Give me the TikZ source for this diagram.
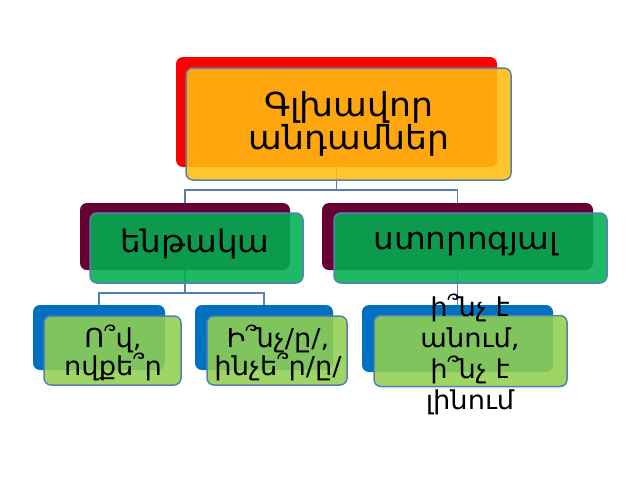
\documentclass[tikz,border=0pt]{standalone}
\usepackage{fontspec}
\setmainfont{DejaVu Sans}[FakeStretch=1.05]
\usetikzlibrary{backgrounds}
\definecolor{bred}{HTML}{FF0000}
\definecolor{bmaroon}{HTML}{660033}
\definecolor{bblue}{HTML}{0070C0}
\definecolor{fgold}{HTML}{FFBE10}
\definecolor{fgreen}{HTML}{00B050}
\definecolor{flime}{HTML}{92D050}
\definecolor{edgec}{HTML}{5580B2}
\begin{document}
\begin{tikzpicture}[x=1pt,y=-1pt,
  backbox/.style={rectangle, rounded corners=7pt, draw=none, inner sep=0pt},
  frontbox/.style={rectangle, rounded corners=7pt, draw=edgec, line width=1.5pt, fill opacity=0.88, inner sep=0pt},
  txt/.style={align=center, inner sep=0pt, text=black},
  conn/.style={draw=edgec, line width=1.8pt},
  bigfont/.style={font=\fontsize{33}{31}\selectfont},
  midfont/.style={font=\fontsize{31}{32}\selectfont},
  smallfont/.style={font=\fontsize{26}{28}\selectfont},
  tallfont/.style={font=\fontsize{26}{31}\selectfont}]
\useasboundingbox (0,0) rectangle (640,480);
% back boxes
\node[backbox, fill=bred, minimum width=321pt, minimum height=110pt] (topB) at (336.5,112) {};
\node[backbox, fill=bmaroon, minimum width=210pt, minimum height=67pt] (leftB) at (185,236.5) {};
\node[backbox, fill=bmaroon, minimum width=271pt, minimum height=67pt] (rightB) at (457.5,236.5) {};
\node[backbox, fill=bblue, minimum width=132pt, minimum height=65pt] (b1B) at (99,337.5) {};
\node[backbox, fill=bblue, minimum width=138pt, minimum height=65pt] (b2B) at (264,337.5) {};
\node[backbox, fill=bblue, minimum width=191pt, minimum height=67pt] (b3B) at (457.5,338.5) {};
% front boxes
\node[frontbox, fill=fgold, minimum width=325pt, minimum height=112pt] (topF) at (348.5,124) {};
\node[frontbox, fill=fgreen, minimum width=213pt, minimum height=70pt] (leftF) at (196.5,248) {};
\node[frontbox, fill=fgreen, minimum width=273pt, minimum height=70pt] (rightF) at (470.5,248) {};
\node[frontbox, fill=flime, minimum width=137pt, minimum height=69pt] (b1F) at (112.5,350.5) {};
\node[frontbox, fill=flime, minimum width=140pt, minimum height=69pt] (b2F) at (277,350.5) {};
\node[frontbox, fill=flime, minimum width=193pt, minimum height=71pt] (b3F) at (470.5,351) {};
% texts
\node[txt, bigfont] (topT) at (349,124) {Գլխավոր\\անդամներ};
\node[txt, midfont] (leftT) at (195,244) {ենթակա};
\node[txt, midfont] (rightT) at (466,244) {ստորոգյալ};
\node[txt, smallfont] (b1T) at (113,353) {Ո՞վ,\\ովքե՞ր};
\node[txt, smallfont] (b2T) at (278,353) {Ի՞նչ/ը/,\\ինչե՞ր/ը/};
\node[txt, tallfont] (b3T) at (470,354) {ի՞նչ է\\անում,\\ի՞նչ է\\լինում};
% connectors
\begin{pgfonlayer}{background}
\fill[white] (0,0) rectangle (640,480);
\draw[conn] (topB.south) -- +(0,23) -| (leftB.north);
\draw[conn] (topB.south) -- +(0,23) -| (rightB.north);
\draw[conn] (leftB.south) -- +(0,23) -| (b1B.north);
\draw[conn] (leftB.south) -- +(0,23) -| (b2B.north);
\draw[conn] (rightB.south) -- (b3B.north);
\end{pgfonlayer}
\end{tikzpicture}
\end{document}
